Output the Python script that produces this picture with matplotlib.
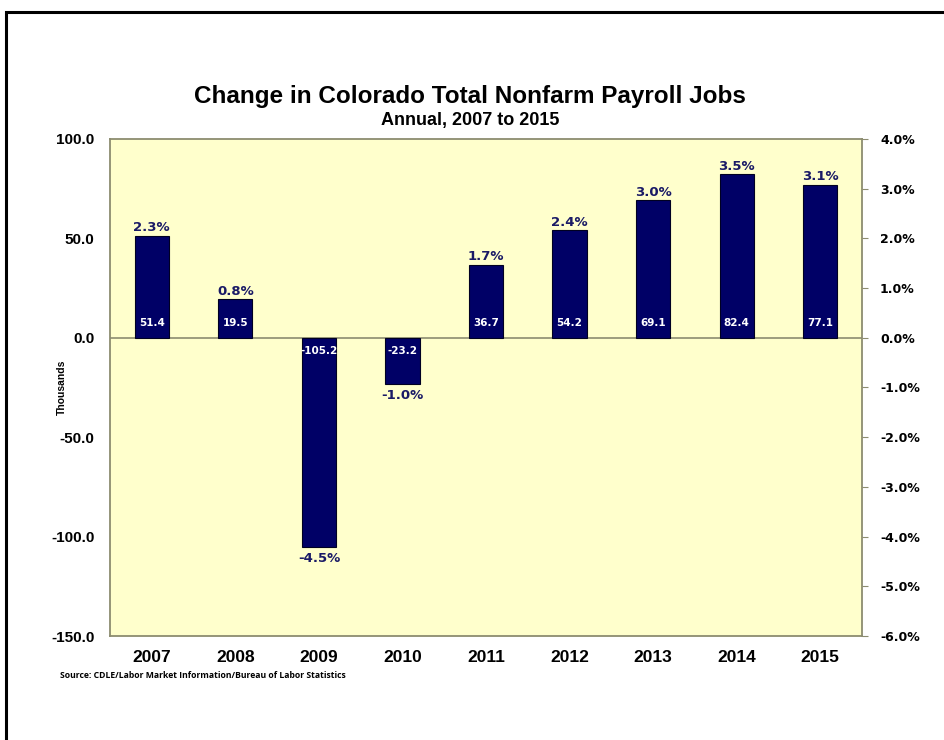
import matplotlib
matplotlib.use("Agg")
import matplotlib.pyplot as plt
from matplotlib.patches import Rectangle

years = ["2007", "2008", "2009", "2010", "2011", "2012", "2013", "2014", "2015"]
change_thousands = [51.4, 19.5, -105.2, -23.2, 36.7, 54.2, 69.1, 82.4, 77.1]
change_pct = [2.3, 0.8, -4.5, -1.0, 1.7, 2.4, 3.0, 3.5, 3.1]
left_ticks = [100.0, 50.0, 0.0, -50.0, -100.0, -150.0]
right_ticks = [4.0, 3.0, 2.0, 1.0, 0.0, -1.0, -2.0, -3.0, -4.0, -5.0, -6.0]

W, H = 945, 740
fig = plt.figure(figsize=(W / 100, H / 100), dpi=100)
fig.patch.set_facecolor("white")

# outer black border
fig.patches.append(Rectangle((6 / W, -0.1), 1.2, 1 - 12 / H + 0.1, transform=fig.transFigure,
                             fill=False, edgecolor="black", linewidth=2.2))

ax = fig.add_axes([110 / W, 1 - 636 / H, (862 - 110) / W, (636 - 139) / H])
ax.set_facecolor("#FFFFCC")
for s in ax.spines.values():
    s.set_color("#8C8C70")
    s.set_linewidth(1.3)

x = list(range(len(years)))
bars = ax.bar(x, change_thousands, width=0.41, color="#000066", edgecolor="#000022", linewidth=0.8, zorder=3)
ax.axhline(0, color="#8C8C70", linewidth=1.2, zorder=2)
ax.set_xlim(-0.5, len(years) - 0.5)
ax.set_ylim(-150, 100)
ax.set_yticks(left_ticks)
ax.set_yticklabels([f"{v:.1f}" for v in left_ticks], fontsize=11, fontweight="bold",
                   family="Liberation Sans")
ax.tick_params(axis="y", length=0, pad=11)
ax.set_xticks(x)
ax.set_xticklabels(years, fontsize=12.5, fontweight="bold", family="Liberation Sans")
ax.tick_params(axis="x", length=0, pad=10)
fig.text(62 / W, 1 - 387 / H, "Thousands", rotation=90, ha="center", va="center",
         fontsize=7.5, fontweight="bold", family="Liberation Sans")

ax2 = ax.twinx()
ax2.set_ylim(-6, 4)
ax2.set_yticks(right_ticks)
ax2.set_yticklabels([f"{v:.1f}%" for v in right_ticks], fontsize=9, fontweight="bold",
                    family="DejaVu Sans")
ax2.tick_params(axis="y", length=4, color="#8C8C70", pad=9)
for s in ax2.spines.values():
    s.set_visible(False)

pct_color = "#1A1A66"
for xi, v, p in zip(x, change_thousands, change_pct):
    if v >= 0:
        ax.annotate(f"{v:.1f}", (xi, 0), xytext=(0, 7), textcoords="offset points",
                    ha="center", va="bottom", color="white", fontsize=7.5, fontweight="bold",
                    family="DejaVu Sans", zorder=4)
        ax.annotate(f"{p:.1f}%", (xi, v), xytext=(0, 1), textcoords="offset points",
                    ha="center", va="bottom", color=pct_color, fontsize=9.5, fontweight="bold",
                    family="DejaVu Sans", zorder=4)
    else:
        ax.annotate(f"{v:.1f}", (xi, 0), xytext=(0, -6), textcoords="offset points",
                    ha="center", va="top", color="white", fontsize=7.5, fontweight="bold",
                    family="DejaVu Sans", zorder=4)
        ax.annotate(f"{p:.1f}%", (xi, v), xytext=(0, -4), textcoords="offset points",
                    ha="center", va="top", color=pct_color, fontsize=9.5, fontweight="bold",
                    family="DejaVu Sans", zorder=4)

fig.text(470 / W, 1 - 96 / H, "Change in Colorado Total Nonfarm Payroll Jobs", ha="center", va="center",
         fontsize=17.5, fontweight="bold", family="Liberation Sans")
fig.text(470 / W, 1 - 121 / H, "Annual, 2007 to 2015", ha="center", va="center",
         fontsize=13, fontweight="bold", family="Liberation Sans")
fig.text(60 / W, 1 - 675 / H, "Source: CDLE/Labor Market Information/Bureau of Labor Statistics",
         ha="left", va="center", fontsize=6.2, fontweight="bold", family="Open Sans")

fig.savefig("out.png", dpi=100, facecolor="white")
